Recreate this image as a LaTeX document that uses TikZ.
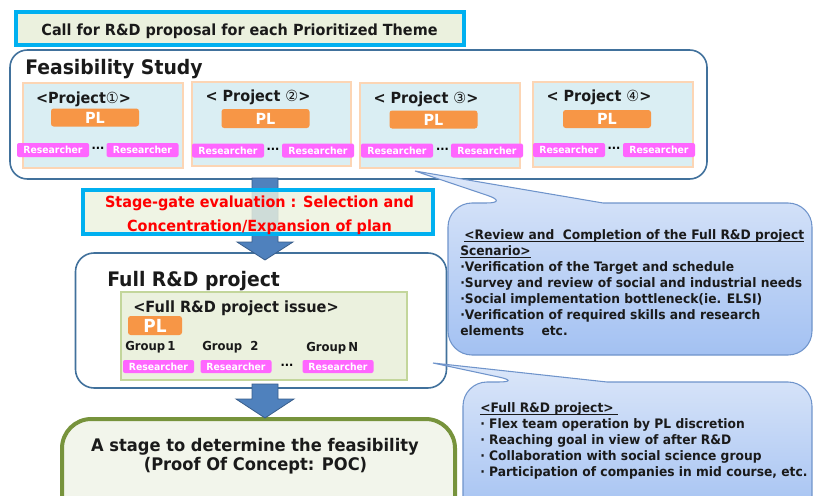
\documentclass[tikz,border=0pt]{standalone}
\usepackage{fontspec}
\setmainfont{DejaVu Sans}[FakeStretch=0.94]
\usetikzlibrary{positioning,calc}

\definecolor{cyanline}{HTML}{00B0F0}
\definecolor{palegreen}{HTML}{EBF1DE}
\definecolor{greenedge}{HTML}{C3D69B}
\definecolor{frameblue}{HTML}{41719C}
\definecolor{projfill}{HTML}{DAEEF3}
\definecolor{projedge}{HTML}{FCD5B4}
\definecolor{plorange}{HTML}{F79646}
\definecolor{respink}{HTML}{FF66FF}
\definecolor{arrowfill}{HTML}{4F81BD}
\definecolor{arrowedge}{HTML}{385D8A}
\definecolor{pocgreen}{HTML}{77933C}
\definecolor{pocfill}{HTML}{F2F5EB}
\definecolor{calltop}{HTML}{DCE7F9}
\definecolor{callbottom}{HTML}{A3C1F2}
\definecolor{calledge}{HTML}{6F94CB}
\definecolor{inktext}{HTML}{1A1A1A}

% underline sitting just under the baseline
\newsavebox{\ulbox}
\newcommand{\ulinetext}[1]{\sbox{\ulbox}{#1}\rlap{\rule[-1.6pt]{\wd\ulbox}{0.6pt}}\usebox{\ulbox}}

\tikzset{
  pxbox/.style 2 args={minimum width=#1*0.75pt, minimum height=#2*0.75pt, inner sep=0pt},
  cyanbox/.style={draw=cyanline, line width=3pt, fill=palegreen},
  stagebox/.style={draw=frameblue, line width=1.2pt, rounded corners=12pt, fill=white},
  projbox/.style={draw=projedge, line width=1pt, fill=projfill},
  plbox/.style={fill=plorange, rounded corners=2pt, text=white, font=\bfseries\fontsize{11.5}{11.5}\selectfont},
  resbox/.style={fill=respink, rounded corners=1.5pt, text=white, font=\bfseries\fontsize{7.4}{7.4}\selectfont},
  gapdots/.style={inner sep=0pt, font=\bfseries\fontsize{9}{9}\selectfont},
  title/.style={inner sep=0pt, text=inktext, font=\bfseries\fontsize{15}{15}\selectfont},
  label/.style={inner sep=0pt, text=inktext, font=\bfseries\fontsize{11.5}{11.5}\selectfont},
  grouplbl/.style={inner sep=0pt, anchor=base west, text=inktext, font=\bfseries\fontsize{9.3}{9.3}\selectfont},
  blockarrow/.style={fill=arrowfill, draw=arrowedge, line width=0.6pt},
  callout/.style={draw=calledge, line width=0.8pt, top color=calltop, bottom color=callbottom},
  notes/.style={inner sep=0pt, anchor=north west, align=left, text=inktext, font=\bfseries\fontsize{9.8}{12}\selectfont}
}

\begin{document}
\begin{tikzpicture}[x=0.75pt, y=-0.75pt]
\useasboundingbox (0,0) rectangle (815,496);
\clip (0,0) rectangle (815,496);

% call for proposals
\node[cyanbox, pxbox={448}{33}] (call) at (240,28.5) {};
\node[label, anchor=base] (calltxt) at (239.5,36) {Call for R\&D proposal for each Prioritized Theme};

% feasibility study
\node[stagebox, pxbox={697}{129}, rounded corners=13pt] (fs) at (358.5,114.5) {};
\node[title, anchor=base west] (fstitle) at (25,74) {Feasibility Study};

\node[projbox, pxbox={160}{85}] (p1) at (103,125.5) {};
\node[projbox, pxbox={159}{84}] (p2) at (271.5,124) {};
\node[projbox, pxbox={160}{85}] (p3) at (440,125.5) {};
\node[projbox, pxbox={160}{85}] (p4) at (613,124.5) {};

\node[label, anchor=base] (p1lbl) at (83.5,103) {<Project{\mdseries ①}>};
\node[label, anchor=base] (p2lbl) at (258,101.7) {< Project {\mdseries ②}>};
\node[label, anchor=base] (p3lbl) at (426,103) {< Project {\mdseries ③}>};
\node[label, anchor=base] (p4lbl) at (599,101.7) {< Project {\mdseries ④}>};

\node[plbox, pxbox={88}{18}] (p1pl) at (95,117.5) {PL};
\node[plbox, pxbox={88}{19}] (p2pl) at (265.5,118.5) {PL};
\node[plbox, pxbox={88}{18}] (p3pl) at (433.5,119.5) {PL};
\node[plbox, pxbox={88}{18}] (p4pl) at (607,119) {PL};

\node[resbox, pxbox={72}{14}] (p1ra) at (53,150) {Researcher};
\node[resbox, pxbox={72}{14}] (p1rb) at (142.5,150) {Researcher};
\node[gapdots] (p1dots) at (98,150) {···};
\node[resbox, pxbox={72}{14}] (p2ra) at (228,150.5) {Researcher};
\node[resbox, pxbox={72}{14}] (p2rb) at (318,150.5) {Researcher};
\node[gapdots] (p2dots) at (273,150.5) {···};
\node[resbox, pxbox={72}{14}] (p3ra) at (397,150.5) {Researcher};
\node[resbox, pxbox={72}{14}] (p3rb) at (487,150.5) {Researcher};
\node[gapdots] (p3dots) at (442.5,150.5) {···};
\node[resbox, pxbox={72}{14}] (p4ra) at (569,150) {Researcher};
\node[resbox, pxbox={72}{14}] (p4rb) at (659,150) {Researcher};
\node[gapdots] (p4dots) at (614,150) {···};

% full R&D project
\node[stagebox, pxbox={371}{135}, rounded corners=14pt] (full) at (261,320.5) {};
\node[title, anchor=base west] (fulltitle) at (107,286) {Full R\&D project};
\node[draw=greenedge, line width=1pt, fill=palegreen, pxbox={286}{88}] (issue) at (264,336) {};
\node[label, anchor=base west, font=\bfseries\fontsize{11.6}{11.6}\selectfont] (issuelbl) at (133,312) {<Full R\&D project issue>};
\node[plbox, pxbox={54}{19}, font=\bfseries\fontsize{13.5}{13.5}\selectfont] (fullpl) at (155,325.5) {PL};
\node[grouplbl] (g1) at (125,350.7) {Group\,1};
\node[grouplbl] (g2) at (202,350.7) {Group\ \ 2};
\node[grouplbl] (gN) at (306,351.5) {Group\,N};
\node[resbox, pxbox={71}{13}] (r1) at (158.5,366.5) {Researcher};
\node[resbox, pxbox={71}{13}] (r2) at (236,366.5) {Researcher};
\node[resbox, pxbox={71}{13}] (rN) at (338,366.5) {Researcher};
\node[gapdots] (rdots) at (287,366.5) {···};

% arrows between stages
\coordinate (a1top) at (265,178);
\coordinate (a1tip) at (265,260);
\coordinate (a2top) at (265,384);
\coordinate (a2tip) at (265,418);
\filldraw[blockarrow] ($(a1top)+(-13,0)$) -- ($(a1tip)+(-13,-18)$) -- ($(a1tip)+(-28,-18)$) -- (a1tip)
  -- ($(a1tip)+(28,-18)$) -- ($(a1tip)+(13,-18)$) -- ($(a1top)+(13,0)$) -- cycle;

% stage gate
\node[cyanbox, fill opacity=0.82, pxbox={350}{44}] (sg) at (258,212) {};
\node[label, anchor=base, text=red] (sgline1) at (259.5,207) {Stage-gate evaluation : Selection and};
\node[label, anchor=base, text=red] (sgline2) at (259.5,231) {Concentration/Expansion of plan};

% POC
\node[draw=pocgreen, line width=3pt, fill=pocfill, rounded corners=22pt, pxbox={393}{110}] (poc) at (258.5,474) {};
\node[label, anchor=base, font=\bfseries\fontsize{13}{13}\selectfont] (poc1) at (255,451.7) {A stage to determine the feasibility};
\node[label, anchor=base, font=\bfseries\fontsize{13}{13}\selectfont] (poc2) at (255.5,470.5) {(Proof Of Concept: POC)};

\filldraw[blockarrow] ($(a2top)+(-13,0)$) -- ($(a2tip)+(-13,-19)$) -- ($(a2tip)+(-29,-19)$) -- (a2tip)
  -- ($(a2tip)+(29,-19)$) -- ($(a2tip)+(13,-19)$) -- ($(a2top)+(13,0)$) -- cycle;

% callouts
\coordinate (tip1) at (415,171);
\coordinate (tip2) at (433,363);
\draw[callout] (603,203) [rounded corners=18pt] -- (812,203) -- (812,355) -- (448,355) -- (448,203)
  -- (510,203) [sharp corners] -- (tip1) -- cycle;
\node[notes] (review) at (460,229) {\hspace{3pt}\ulinetext{<Review and\ \ Completion of the Full R\&D project}\\
  \ulinetext{Scenario>}\\
  ·Verification of the Target and schedule\\
  ·Survey and review of social and industrial needs\\
  ·Social implementation bottleneck(ie. ELSI)\\
  ·Verification of required skills and research\\
  elements\quad\ etc.};

\draw[callout] (607,382) [rounded corners=18pt] -- (812,382) -- (812,520) -- (463,520) -- (463,382)
  -- (522,382) [sharp corners] -- (tip2) -- cycle;
\node[notes] (fullnotes) at (480,402.5) {\ulinetext{<Full R\&D project>\ }\\
  · Flex team operation by PL discretion\\
  · Reaching goal in view of after R\&D\\
  · Collaboration with social science group\\
  · Participation of companies in mid course, etc.};
\end{tikzpicture}
\end{document}
